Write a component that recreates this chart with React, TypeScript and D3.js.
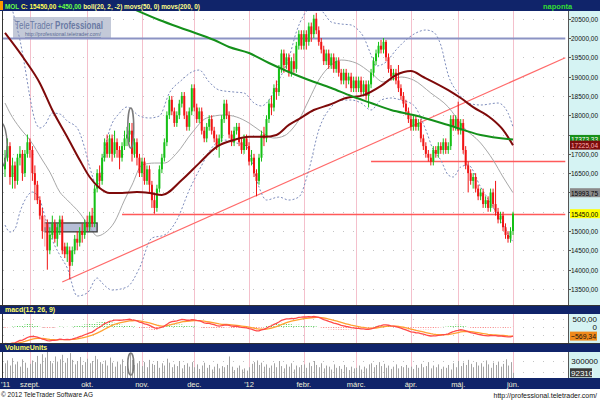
import { useMemo } from "react";
import * as d3 from "d3";

// ---- layout ----
const W = 600;
const H = 400;
const PL = 3;
const PR = 568;
const MAIN_T = 11;
const MAIN_B = 305;
const MACD_T = 314;
const MACD_B = 343;
const VOL_T = 352;
const VOL_B = 378;
const NAVY = "#10246a";
const AXIS_BG = "#d5f3f3";
const FONT = "Liberation Sans, Arial, sans-serif";

// ---- data: daily candles [open, high, low, close], MOL 2011-08-19 .. 2012-06-01 ----
const ohlc: [number, number, number, number][] = [
  [16600,17100,16400,16900],[16900,17400,16800,17200],[17200,17300,16200,16400],[16400,16900,16100,16700],
  [16700,16800,16100,16300],[16300,17000,16200,16900],[16900,17200,16700,17000],[17000,17100,16300,16500],
  [16500,17100,16400,17000],[17000,17500,16900,17300],[17300,17400,16900,17100],
  // szept.
  [17100,17200,16300,16500],[16500,16700,15800,16200],[16200,16300,15700,15800],[15800,15900,15300,15400],
  [15400,15600,14800,15000],[15200,15400,14600,15100],[15200,15300,14000,14500],[14500,15100,14400,14900],
  [14900,15400,14800,15200],[15200,15300,14700,14800],[14800,15200,14600,15100],[15100,15400,14900,15300],
  [15300,15400,14400,14500],[14600,14700,14300,14400],[14400,14700,14200,14600],[14500,14600,13750,14100],
  [14200,14600,14100,14500],[14500,14900,14400,14800],[14800,15000,14500,14700],[14700,15100,14600,15000],
  [15000,15200,14700,14900],[14900,15300,14800,15200],
  // okt.
  [15200,15400,15000,15100],[15100,15500,15000,15400],[15400,15600,15100,15200],[15200,16200,15100,16100],
  [16100,16600,16000,16500],[16500,16700,16100,16300],[16300,17000,16200,16900],[16900,17400,16800,17300],
  [17300,17500,16900,17000],[17000,17500,16900,17400],[17400,17500,16800,17000],[17000,17600,16900,17300],
  [17300,17400,16900,17100],[17100,17200,16600,16900],[16900,17300,16800,17200],[17200,17600,17100,17400],
  [17400,17700,17200,17500],[17500,17800,17300,17600],[17600,17800,16800,17000],[17000,17400,16900,17300],
  [17300,17400,16700,16900],[16900,17000,16400,16500],
  // nov.
  [16500,16900,16400,16800],[16800,16900,16200,16300],[16300,16700,16200,16600],[16600,16700,16000,16200],
  [16200,16300,15600,15800],[15800,16000,15450,15600],[15600,16200,15500,16100],[16100,16700,16000,16600],
  [16600,17000,16500,16900],[16900,17400,16800,17300],[17300,18100,17200,18000],[18000,18500,17900,18400],
  [18400,18500,18000,18100],[18100,18200,17700,17800],[17800,18100,17700,18000],[18000,18400,17900,18300],
  [18300,18600,18200,18500],[18500,18600,17900,18000],[18000,18100,17600,17700],[17700,18200,17600,18100],
  [18100,18800,18000,18700],
  // dec.
  [18700,18800,18100,18200],[18200,18300,17800,17900],[17900,18200,17800,18100],[18100,18200,17500,17600],
  [17600,17700,17300,17400],[17400,17800,17300,17700],[17700,18000,17600,17900],[17900,18000,17500,17600],
  [17600,17700,17300,17400],[17400,17500,17100,17200],[17200,17500,16900,17400],[17400,18000,17300,17900],
  [17900,18400,17800,18300],[18300,18400,17900,18000],[18000,18100,17400,17500],[17500,17600,17200,17300],
  [17300,17700,17200,17600],[17600,17800,17500,17700],[17700,17800,17200,17300],[17300,17400,17000,17100],
  [17100,17500,17000,17400],[17400,17500,17100,17200],
  // '12 jan
  [17200,17300,16700,16800],[16800,17100,16700,16900],[16900,17000,16400,16500],[16500,16600,15900,16300],
  [16300,17000,16200,16900],[16900,17600,16800,17500],[17500,17700,17200,17400],[17400,18000,17300,17900],
  [17900,18400,17800,18300],[18300,18500,18000,18200],[18200,18800,18100,18700],[18700,18900,18400,18600],
  [18600,19300,18500,19200],[19200,19700,19100,19600],[19600,19700,19100,19300],[19300,19600,19200,19500],
  [19500,19600,19000,19100],[19100,19500,19000,19400],[19400,19600,19100,19200],[19200,19900,19100,19800],
  [19800,20200,19700,20100],[20100,20200,19700,19800],
  // febr.
  [19800,20200,19700,20100],[20100,20200,19700,19900],[19900,20400,19800,20300],[20300,20400,19900,20100],
  [20100,20600,20000,20500],[20500,20650,20100,20200],[20200,20300,19800,19900],[19900,20000,19600,19700],
  [19700,19800,19300,19400],[19400,19700,19300,19600],[19600,19700,19200,19300],[19300,19600,19200,19500],
  [19500,19600,19100,19200],[19200,19500,19100,19400],[19400,19500,19000,19100],[19100,19200,18800,18900],
  [18900,19200,18800,19100],[19100,19200,18700,18900],[18900,19100,18800,19000],[19000,19100,18600,18700],
  [18700,19000,18600,18900],
  // márc.
  [18900,19000,18600,18700],[18700,19000,18600,18900],[18900,19000,18500,18600],[18600,18900,18500,18800],
  [18800,18900,18400,18500],[18500,18900,18200,18800],[18800,19200,18700,19100],[19100,19500,19000,19400],
  [19400,19700,19300,19600],[19600,19900,19500,19800],[19800,19950,19600,19700],[19700,20000,19600,19900],
  [19900,19950,19400,19500],[19500,19600,19100,19200],[19200,19300,18900,19000],[19000,19200,18900,19100],
  [19100,19200,18800,18900],[18900,19300,18600,18700],[18700,18800,18400,18500],[18500,18600,18200,18300],
  [18300,18400,18000,18100],[18100,18200,17800,17900],
  // ápr.
  [17900,18000,17600,17700],[17700,18000,17600,17900],[17900,18000,17600,17700],[17700,17900,17600,17800],
  [17800,17900,17300,17400],[17400,17500,17100,17200],[17200,17300,16900,17000],[17000,17100,16800,16900],
  [16900,17000,16700,16800],[16800,17200,16700,17100],[17100,17200,16900,17000],[17000,17300,16900,17200],
  [17200,17300,17000,17100],[17100,17400,17000,17300],[17300,17400,17000,17100],[17100,17300,17000,17200],
  [17200,18000,17100,17900],[17900,18000,17600,17700],[17700,18000,17600,17900],
  // máj.
  [17900,18350,17500,17600],[17600,17900,17500,17800],[17800,17900,17000,17100],[17100,17200,16600,16700],
  [16700,16800,16000,16500],[16500,16600,16200,16300],[16300,16500,16100,16400],[16400,16500,16000,16100],
  [16100,16200,15800,15900],[15900,16100,15800,16000],[16000,16100,15600,15700],[15700,15900,15600,15800],
  [15800,15900,15500,15600],[15600,16100,15500,16000],[16000,16100,15600,15700],[15700,16300,15400,15500],
  [15500,15600,15200,15300],[15300,15500,15200,15400],[15400,15500,15000,15100],[15100,15200,14800,14900],
  [14900,15000,14700,14800],[14800,15100,14700,15000],[15000,15500,14900,15450],
];

const volumeThousands: number[] = [
  260, 310, 220, 350, 240, 290, 200, 330, 270, 180, 250,
  310, 280, 390, 250, 420, 360, 470, 300, 260, 380, 290, 330, 410, 270, 350, 440, 320, 240, 300, 370, 230, 280,
  340, 260, 300, 390, 330, 280, 250, 310, 220, 360, 270, 200, 290, 240, 330, 210, 280, 440, 320, 230, 260, 300,
  210, 280, 190, 320, 250, 230, 300, 180, 260, 220, 340, 270, 190, 240, 210, 300, 170, 230, 260, 200, 280,
  190, 240, 160, 220, 270, 180, 230, 150, 200, 250, 170, 210, 190, 230, 380, 200, 140, 180, 220, 150, 170, 130,
  190, 250, 280, 310, 230, 270, 200, 240, 180, 220, 260, 190, 300, 210, 170, 240, 200, 260, 150, 220, 190, 230,
  240, 180, 270, 210, 300, 230, 190, 260, 170, 220, 200, 150, 240, 180, 210, 160, 230, 190, 140, 200, 170,
  180, 220, 150, 200, 170, 240, 260, 190, 230, 280, 210, 250, 180, 220, 160, 200, 240, 170, 210, 190, 230, 180,
  200, 160, 230, 180, 250, 190, 210, 280, 170, 220, 190, 240, 160, 200, 180, 230, 150, 260, 190,
  300, 210, 270, 230, 320, 250, 190, 280, 220, 260, 200, 310, 240, 180, 270, 230, 290, 200, 250, 330, 220, 280, 92.31,
];

// indicator readings [candle index, value]
const ma200: [number, number][] = [
  [48, 20855], [62, 20466], [73, 20207], [84, 19948], [90, 19767], [98, 19611], [106, 19352], [114, 19120],
  [122, 18912], [131, 18705], [139, 18498], [147, 18316], [155, 18135], [164, 18006], [178, 17747],
  [191, 17488], [204, 17373],
];
const ma50: [number, number][] = [
  [0, 20130], [8, 19430], [14, 18830], [19, 18135], [25, 17436], [30, 16840], [34, 16400], [38, 16115],
  [42, 15985], [47, 15985], [53, 16010], [58, 15985], [63, 15934], [71, 16322], [78, 16760], [85, 17180],
  [92, 17360], [98, 17440], [104, 17440], [109, 17490], [114, 17750], [118, 17900], [124, 18135], [130, 18265],
  [137, 18445], [144, 18520], [151, 18760], [157, 19040], [163, 19145], [168, 18990], [178, 18650],
  [183, 18445], [188, 18210], [195, 17930], [200, 17620], [204, 17225],
];
const bollUpper: [number, number][] = [
  [2, 20984], [4, 20466], [6, 19948], [8, 19249], [10, 18472], [12, 17876], [14, 17669], [16, 17747],
  [19, 18057], [22, 18031], [25, 17850], [29, 17669], [32, 17151], [34, 16659], [37, 16193], [38, 16322],
  [40, 17099], [42, 17617], [46, 18057], [49, 18213], [54, 17980], [58, 17928], [62, 17980], [66, 18575],
  [71, 18912], [75, 19119], [78, 19171], [82, 18860], [86, 18653], [92, 18601], [96, 18575], [100, 18316],
  [103, 18239], [106, 18394], [110, 18912], [114, 19482], [117, 20155], [120, 20596], [123, 20777],
  [126, 20777], [128, 20647], [131, 20414], [135, 20362], [139, 20337], [141, 20259], [144, 20026],
  [147, 19560], [149, 19274], [153, 19378], [157, 19689], [161, 19948], [165, 20129], [169, 20207],
  [172, 20155], [175, 19819], [178, 19041], [182, 18575], [186, 18316], [191, 18265], [198, 18316],
  [202, 18057], [204, 17695],
];
const bollMiddle: [number, number][] = [
  [0, 18316], [2, 18057], [6, 17669], [10, 17358], [15, 16840], [18, 16529], [22, 16011], [25, 15804],
  [30, 15468], [34, 15105], [37, 14872], [40, 14950], [44, 15235], [48, 15804], [51, 16193], [55, 16711],
  [60, 16762], [64, 16762], [69, 17020], [75, 17539], [81, 17928], [88, 18006], [93, 17954], [98, 17798],
  [102, 17617], [108, 17410], [112, 17462], [116, 17695], [118, 17876], [122, 18394], [126, 18912],
  [131, 19300], [135, 19430], [141, 19352], [147, 19093], [152, 18860], [159, 18990], [164, 18912],
  [171, 18575], [178, 18213], [184, 17695], [191, 17280], [196, 16840], [200, 16400], [204, 15994],
];
const bollLower: [number, number][] = [
  [0, 15157], [2, 14976], [4, 15053], [6, 15494], [8, 15804], [11, 16011], [14, 15804], [17, 15157],
  [19, 14768], [22, 14380], [25, 14043], [29, 13318], [33, 13396], [37, 13784], [39, 13654], [43, 13473],
  [49, 13551], [54, 14043], [59, 14820], [64, 14898], [69, 15286], [74, 16063], [78, 16581], [84, 17229],
  [88, 17358], [93, 17280], [97, 17203], [99, 16840], [102, 16141], [105, 15804], [110, 15882],
  [114, 15804], [118, 15882], [122, 16581], [126, 17617], [131, 18213], [135, 18394], [139, 18394],
  [143, 18316], [147, 18135], [151, 18394], [155, 18446], [159, 18394], [164, 18265], [169, 17617],
  [172, 17099], [175, 16840], [178, 16452], [180, 16400], [183, 16659], [186, 16711], [191, 16141],
  [195, 15727], [199, 15286], [203, 14820], [204, 14716],
];

// MACD(12,26,9) state at the first candle
const ema12Start = 17300;
const ema26Start = 18500;
const signalStart = -1000;

const monthLabels = ["'11", "szept.", "okt.", "nov.", "dec.", "'12", "febr.", "márc.", "ápr.", "máj.", "jún."];
const monthIndex = [0, 10, 33, 55, 76, 98, 120, 141, 163, 182, 204];
const priceTicks = d3.range(13500, 20501, 500);
// tick labels hidden behind the value tags on the right axis
const coveredTicks = [17500, 16000, 15500];

// drawn annotations
const trendLine: [number, number][] = [[23, 13680], [225, 19490]];
const hLines = [
  { from: -1, to: 225, value: 20000, color: "#8c93c4", width: 2 },
  { from: 147, to: 225, value: 16820, color: "#ff5a5a", width: 1.3 },
  { from: 47, to: 225, value: 15450, color: "#ff5a5a", width: 1.3 },
];
const priceTags = [
  { value: 17373.33, bg: "#17901a", fg: "#ffffff" },
  { value: 17225.04, bg: "#7a0c0c", fg: "#ffb0b0" },
  { value: 15993.75, bg: "#8a8a8a", fg: "#000000" },
  { value: 15450.0, bg: "#ffff00", fg: "#000000" },
];

const fmt = (v: number) => d3.format(".2f")(v).replace(".", ",");
const px = (v: number) => Math.round(v) + 0.5;

export default function App() {
  const x = d3.scaleLinear().domain([0, 204]).range([5, 513]);
  const y = d3.scaleLinear().domain([13500, 20000]).range([289, 38]);
  const yM = d3.scaleLinear().domain([0, 500]).range([327, 319]);
  const yV = d3.scaleLinear().domain([0, 300]).range([VOL_B, 361]);

  const macd = useMemo(() => {
    let e12 = ema12Start;
    let e26 = ema26Start;
    let sig = signalStart;
    return ohlc.map((d) => {
      e12 += (d[3] - e12) * (2 / 13);
      e26 += (d[3] - e26) * (2 / 27);
      const m = e12 - e26;
      sig += (m - sig) * (2 / 10);
      return { m, sig, h: m - sig };
    });
  }, []);
  const lastSig = macd[macd.length - 1].sig;

  const smooth = d3
    .line<[number, number]>()
    .x((d) => x(d[0]))
    .y((d) => y(d[1]))
    .curve(d3.curveMonotoneX);
  const straight = d3.line<[number, number]>().x((d) => x(d[0])).y((d) => y(d[1]));
  const macdLine = d3
    .line<number>()
    .x((_d, i) => x(i))
    .y((d) => yM(d));

  return (
    <svg width={W} height={H} style={{ position: "absolute", left: 0, top: 0 }} fontFamily={FONT}>
      <defs>
        <clipPath id="cMain"><rect x={PL} y={MAIN_T} width={PR - PL} height={MAIN_B - MAIN_T} /></clipPath>
        <clipPath id="cMacd"><rect x={PL} y={MACD_T} width={PR - PL} height={MACD_B - MACD_T} /></clipPath>
        <clipPath id="cVol"><rect x={PL} y={VOL_T} width={PR - PL} height={VOL_B - VOL_T} /></clipPath>
      </defs>
      <rect width={W} height={H} fill="#ffffff" />

      {/* right axis backgrounds */}
      <rect x={PR} y={MAIN_T} width={W - PR} height={MAIN_B - MAIN_T} fill={AXIS_BG} />
      <rect x={PR} y={MACD_T} width={W - PR} height={MACD_B - MACD_T} fill={AXIS_BG} />
      <rect x={PR} y={VOL_T} width={W - PR} height={VOL_B - VOL_T} fill={AXIS_BG} />

      {/* grid */}
      {priceTicks.map((t) => (
        <line key={t} x1={PL} x2={PR} y1={px(y(t))} y2={px(y(t))} stroke="#c4c4c4" strokeDasharray="1 9" />
      ))}
      {[0, 500, -500].map((t) => (
        <line key={t} x1={PL} x2={PR} y1={px(yM(t))} y2={px(yM(t))} stroke="#c4c4c4" strokeDasharray="1 9" />
      ))}
      {[100, 300].map((t) => (
        <line key={t} x1={PL} x2={PR} y1={px(yV(t))} y2={px(yV(t))} stroke="#c4c4c4" strokeDasharray="1 9" />
      ))}
      {monthIndex.slice(1).map((i) => (
        <g key={i} stroke="#f4c0cc">
          <line x1={px(x(i))} x2={px(x(i))} y1={MAIN_T} y2={MAIN_B} />
          <line x1={px(x(i))} x2={px(x(i))} y1={MACD_T} y2={MACD_B} />
          <line x1={px(x(i))} x2={px(x(i))} y1={VOL_T} y2={VOL_B} />
        </g>
      ))}

      {/* main panel */}
      <g clipPath="url(#cMain)">
        {/* watermark */}
        <rect x={13} y={17} width={98} height={21} fill="#aab2c8" opacity={0.7} />
        <text x={15} y={28.5} fontSize={10} fill="#6a7aa4" textLength={88} lengthAdjust="spacingAndGlyphs">
          TeleTrader <tspan fontWeight="bold">Professional</tspan>
        </text>
        <text x={25} y={36} fontSize={5} fill="#5a6a94" textDecoration="underline"
          textLength={76} lengthAdjust="spacingAndGlyphs">
          http://professional.teletrader.com/
        </text>

        {hLines.map((l, k) => (
          <line key={k} x1={x(l.from)} x2={x(l.to)} y1={px(y(l.value))} y2={px(y(l.value))} stroke={l.color} strokeWidth={l.width} />
        ))}
        <path d={straight(trendLine) || ""} stroke="#ff6a6a" strokeWidth={1.2} fill="none" />

        <path d={smooth(bollUpper) || ""} stroke="#7d8cbc" strokeDasharray="2 2" fill="none" />
        <path d={smooth(bollLower) || ""} stroke="#7d8cbc" strokeDasharray="2 2" fill="none" />
        <path d={smooth(bollMiddle) || ""} stroke="#a8a8a8" fill="none" />

        {/* annotation box */}
        <rect x={x(16)} y={y(15210)} width={x(37) - x(16)} height={y(14980) - y(15210)}
          fill="#9ea7c8" fillOpacity={0.75} stroke="#3a3a3a" strokeWidth={1.3} />

        {ohlc.map((d, i) => {
          const [o, h, l, c] = d;
          const prev = i > 0 ? ohlc[i - 1][3] : o;
          const up = c >= o;
          const col = up ? (c >= prev ? "#16c016" : "#8ee08e") : c <= prev ? "#f01414" : "#f59c9c";
          const top = y(Math.max(o, c));
          const bh = Math.max(1, y(Math.min(o, c)) - top);
          return (
            <g key={i}>
              <line x1={x(i)} x2={x(i)} y1={y(h)} y2={y(l)} stroke={col} />
              <rect x={x(i) - 1} y={top} width={2} height={bh} fill={col} />
            </g>
          );
        })}

        <path d={smooth(ma50) || ""} stroke="#7e0a0a" strokeWidth={2} fill="none" />
        <path d={smooth(ma200) || ""} stroke="#14901a" strokeWidth={2} fill="none" />

        {/* hand-drawn ovals */}
        <ellipse cx={x(50.5)} cy={(y(18187) + y(17151)) / 2} rx={3} ry={(y(17151) - y(18187)) / 2}
          fill="none" stroke="#7a7a7a" strokeWidth={1.5} />
        <ellipse cx={x(-1.6)} cy={(y(17800) + y(16660)) / 2} rx={6} ry={(y(16660) - y(17800)) / 2}
          fill="none" stroke="#7a7a7a" strokeWidth={1.5} />
      </g>

      {/* macd panel */}
      <g clipPath="url(#cMacd)">
        {macd.map((d, i) => (
          <line key={i} x1={x(i)} x2={x(i)} y1={yM(0)} y2={yM(d.h)}
            stroke={d.h >= 0 ? "#4ccc4c" : "#ff8080"} strokeDasharray="1 1" />
        ))}
        <path d={macdLine(macd.map((d) => d.sig)) || ""} stroke="#ffa030" strokeWidth={1.3} fill="none" />
        <path d={macdLine(macd.map((d) => d.m)) || ""} stroke="#ff4a4a" strokeWidth={1.3} fill="none" />
      </g>

      {/* volume panel */}
      <g clipPath="url(#cVol)">
        {volumeThousands.map((v, i) => (
          <line key={i} x1={px(x(i))} x2={px(x(i))} y1={yV(0)} y2={yV(v)} stroke="#a4a4a4" />
        ))}
        <ellipse cx={x(50.5)} cy={(yV(440) + yV(50)) / 2} rx={3} ry={(yV(50) - yV(440)) / 2}
          fill="none" stroke="#7a7a7a" strokeWidth={1.5} />
      </g>

      {/* frames */}
      <line x1={2.5} x2={2.5} y1={MAIN_T} y2={VOL_B} stroke="#333" />
      <line x1={PR + 0.5} x2={PR + 0.5} y1={MAIN_T} y2={VOL_B} stroke="#555" />
      <line x1={0} x2={W} y1={MAIN_B + 0.5} y2={MAIN_B + 0.5} stroke="#333" />
      <line x1={0} x2={W} y1={MACD_B + 0.5} y2={MACD_B + 0.5} stroke="#333" />

      {/* header & title bars */}
      <rect x={0} y={0} width={W} height={MAIN_T} fill={NAVY} />
      <rect x={0} y={1} width={3} height={9} fill="#ff9900" />
      <text x={5} y={8.5} fontSize={7.5} fontWeight="bold" textLength={195} lengthAdjust="spacingAndGlyphs">
        <tspan fill="#66ff44">MOL </tspan>
        <tspan fill="#ffff55">C: 15450,00 </tspan>
        <tspan fill="#66ff44">+450,00 </tspan>
        <tspan fill="#ffff88">boll(20, 2, -2) movs(50, 0) movs(200, 0)</tspan>
      </text>
      <text x={543} y={8.5} fontSize={7.5} fontWeight="bold" fill="#33dd33">naponta</text>

      <rect x={0} y={MAIN_B + 1} width={W} height={MACD_T - MAIN_B - 1} fill={NAVY} />
      <text x={5} y={312} fontSize={7} fontWeight="bold" fill="#ffff66">macd(12, 26, 9)</text>
      <rect x={0} y={MACD_B + 1} width={W} height={VOL_T - MACD_B - 1} fill={NAVY} />
      <text x={5} y={350} fontSize={7} fontWeight="bold" fill="#ffff66">VolumeUnits</text>

      {/* x axis */}
      <rect x={0} y={VOL_B} width={W} height={11} fill={NAVY} />
      {monthLabels.map((m, k) => (
        <text key={m} x={k === 0 ? 1 : x(monthIndex[k])} y={386.5} fontSize={7.5} fill="#f0f0d8"
          textAnchor={k === 0 ? "start" : "middle"}>{m}</text>
      ))}

      {/* right axis labels */}
      <g fontSize={8} fill="#111">
        {priceTicks.map((t) => (
          <g key={t}>
            <line x1={PR} x2={PR + 3} y1={px(y(t))} y2={px(y(t))} stroke="#555" />
            {!coveredTicks.includes(t) && (
              <text x={571} y={y(t) + 3} textLength={27} lengthAdjust="spacingAndGlyphs">{fmt(t)}</text>
            )}
          </g>
        ))}
        {priceTags.map((p) => (
          <g key={p.value}>
            <rect x={570} y={y(p.value) - 4.5} width={30} height={9} fill={p.bg} />
            <text x={571} y={y(p.value) + 3} fill={p.fg} textLength={27} lengthAdjust="spacingAndGlyphs">{fmt(p.value)}</text>
          </g>
        ))}
        <text x={597} y={yM(500) + 3} textAnchor="end">{fmt(500)}</text>
        <text x={597} y={yM(0) + 3} textAnchor="end">0</text>
        <rect x={570} y={yM(lastSig) - 4.5} width={27} height={9} fill="#f08a1c" />
        <text x={571} y={yM(lastSig) + 3} textLength={25} lengthAdjust="spacingAndGlyphs">{fmt(lastSig)}</text>
        <text x={598} y={yV(300) + 3} textAnchor="end">300000</text>
        <rect x={570} y={yV(92.31) - 4.5} width={22} height={9} fill="#3a3a3a" />
        <text x={571} y={yV(92.31) + 3} fill="#ffffff">92310</text>
      </g>

      {/* footer */}
      <text x={1} y={397} fontSize={8} fill="#111" textLength={92} lengthAdjust="spacingAndGlyphs">
        © 2012 TeleTrader Software AG
      </text>
      <text x={597} y={398} fontSize={7} fill="#111" textAnchor="end">http://professional.teletrader.com/</text>
    </svg>
  );
}
